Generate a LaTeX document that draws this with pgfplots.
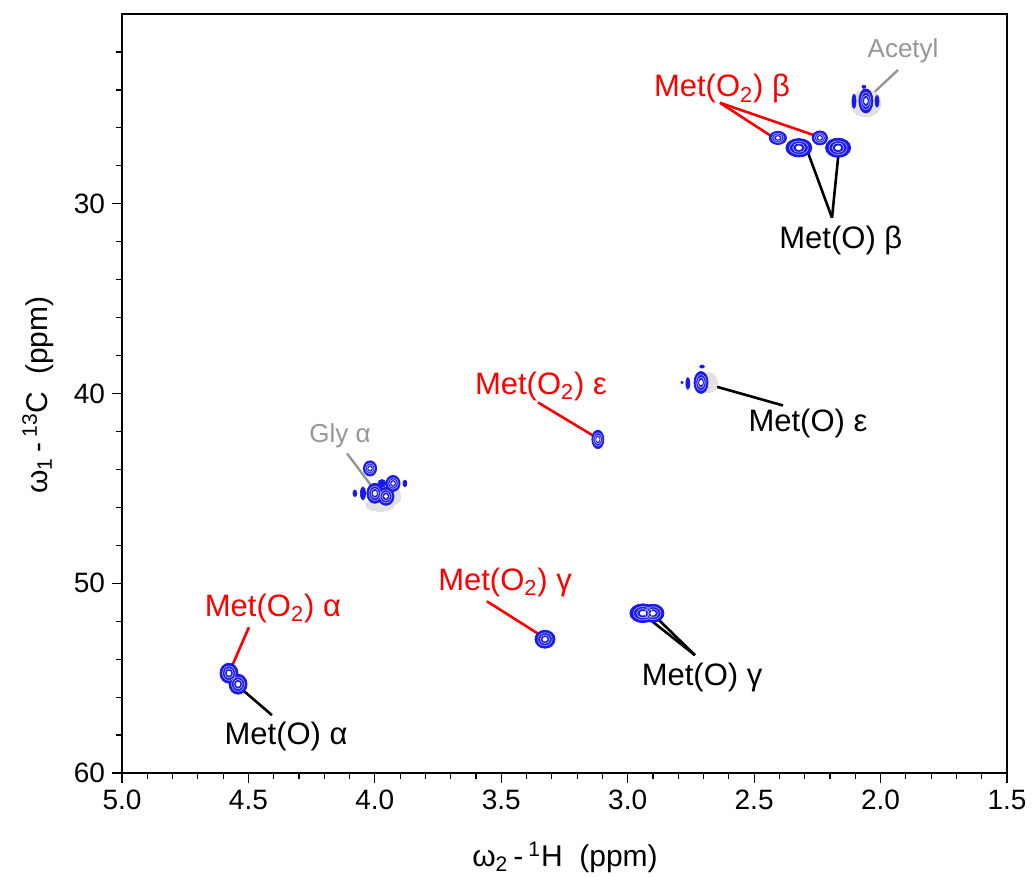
\documentclass[border=0pt]{standalone}
\usepackage{pgfplots}
\pgfplotsset{compat=1.18}
\usepackage{pgfplotstable}
\usepackage{fontspec}
\setmainfont{Liberation Sans}
\definecolor{pk}{RGB}{25,25,235}
\definecolor{lblgray}{RGB}{150,150,150}
\definecolor{halo}{RGB}{225,225,225}

% main peaks: x(1H ppm) y(13C ppm) rx ry (pt)
\pgfplotstableread{
x y rx ry
2.058 24.58 3.5 6.0
2.406 26.53 4.3 3.3
2.240 26.53 3.8 3.5
2.323 27.05 6.5 4.6
2.168 27.05 6.3 4.8
2.710 39.42 3.5 5.5
3.118 42.42 3.0 4.6
3.327 52.95 5.0 4.5
2.940 51.58 6.5 4.7
2.900 51.58 5.5 4.5
4.577 54.74 4.5 5.0
4.541 55.32 4.5 5.0
4.019 43.95 3.3 3.8
4.000 45.26 4.0 5.0
3.956 45.42 4.0 4.5
3.928 44.74 3.5 4.0
}\peaks

\pgfplotstableread{
x y rx ry
2.105 24.60 1.0 3.5
2.014 24.60 1.0 3.0
2.066 23.84 1.0 0.8
2.762 39.47 1.0 3.0
2.785 39.42 0.6 0.6
2.706 38.58 1.2 0.8
3.972 44.74 2.0 2.0
4.047 45.26 1.3 3.3
4.079 45.26 1.0 1.7
3.881 44.74 1.0 1.7
}\smallpeaks

\pgfplotstableread{
x y rx ry
2.058 24.70 7.5 6.8
2.680 39.42 4.5 5.0
3.980 45.89 7.0 3.0
3.960 45.40 8.0 5.5
}\halos

\pgfplotsset{
  peaklayer/.style n args={3}{only marks, scatter, mark=#2, mark size=1pt,
    visualization depends on={\thisrow{rx}\as\rx},
    visualization depends on={\thisrow{ry}\as\ry},
    scatter/@pre marker code/.code={\pgfscope\pgftransformxscale{#1*\rx}\pgftransformyscale{#1*\ry}},
    scatter/@post marker code/.code={\endpgfscope},
    mark options={#3}},
}

\begin{document}
\begin{tikzpicture}
\path[use as bounding box] (-61pt,-52pt) rectangle (456.5pt,386.5pt);
\begin{axis}[
  at={(0,0)}, anchor=south west,
  width=442.5pt, height=379.5pt, scale only axis,
  x dir=reverse, y dir=reverse,
  xmin=1.5, xmax=5, ymin=20, ymax=60,
  xtick={1.5,2,...,5}, minor x tick num=4,
  ytick={30,40,50,60}, minor ytick={22,24,...,58},
  xtick pos=bottom, ytick pos=left,
  x tick label style={/pgf/number format/.cd, fixed, fixed zerofill, precision=1},
  /pgf/number format/assume math mode=true,
  tick align=outside,
  major tick length=5pt, minor tick length=3pt,
  tick style={black, line width=0.6pt},
  axis line style={line width=1pt},
  ticklabel style={font=\fontsize{14}{16}\selectfont},
  xlabel={ω\textsubscript{2}\,-\,\textsuperscript{1}H\ \ (ppm)},
  ylabel={ω\textsubscript{1}\,-\,\textsuperscript{13}C\ \ (ppm)},
  label style={font=\fontsize{15}{18}\selectfont},
  xlabel style={at={(axis description cs:0.5006,-0.111)}, anchor=center},
  ylabel style={at={(axis description cs:-0.095,0.498)}, anchor=center},
  clip=false,
]
\addplot[draw=halo, fill=halo, peaklayer={1}{*}{draw=halo, fill=halo, line width=0pt}] table {\halos};
\addplot[draw=pk, fill=pk, peaklayer={1}{*}{draw=pk, fill=pk, line width=0.4pt}] table {\peaks};
\addplot[draw=pk, fill=pk, peaklayer={1}{*}{draw=pk, fill=pk, line width=0.3pt}] table {\smallpeaks};
\addplot[draw=white!65!pk, peaklayer={0.72}{o}{draw=white!65!pk, line width=0.3pt}] table {\peaks};
\addplot[draw=white!75!pk, peaklayer={0.48}{o}{draw=white!75!pk, line width=0.3pt}] table {\peaks};
\addplot[draw=white, fill=white, peaklayer={0.22}{*}{draw=white, fill=white, line width=0.2pt}] table {\peaks};

% annotation lines
\draw[lblgray, line width=1.2pt] (axis cs:1.931,22.95) -- (axis cs:2.058,24.53);
\draw[red, line width=1.3pt] (axis cs:2.635,24.68) -- (axis cs:2.410,26.63);
\draw[red, line width=1.3pt] (axis cs:2.635,24.68) -- (axis cs:2.232,26.53);
\draw[black, line width=1.3pt] (axis cs:2.192,30.74) -- (axis cs:2.291,27.16);
\draw[black, line width=1.3pt] (axis cs:2.192,30.74) -- (axis cs:2.164,27.05);
\draw[red, line width=1.3pt] (axis cs:3.355,40.47) -- (axis cs:3.118,42.37);
\draw[black, line width=1.3pt] (axis cs:2.694,39.47) -- (axis cs:2.386,40.63);
\draw[lblgray, line width=1.2pt] (axis cs:4.110,43.16) -- (axis cs:4.000,45.11);
\draw[red, line width=1.3pt] (axis cs:4.498,52.32) -- (axis cs:4.577,54.74);
\draw[black, line width=1.3pt] (axis cs:4.545,55.37) -- (axis cs:4.407,56.95);
\draw[red, line width=1.3pt] (axis cs:3.557,50.95) -- (axis cs:3.327,52.89);
\draw[black, line width=1.3pt] (axis cs:2.944,51.58) -- (axis cs:2.734,53.79);
\draw[black, line width=1.3pt] (axis cs:2.904,51.58) -- (axis cs:2.734,53.79);

% labels
\begin{scope}[every node/.style={font=\fontsize{15.5}{18}\selectfont, inner sep=0pt, anchor=center}]
\node[lblgray, font=\fontsize{13}{15}\selectfont] at (axis cs:1.911,21.95) {Acetyl};
\node[red] at (axis cs:2.627,23.95) {Met(O\textsubscript{2}) β};
\node[black] at (axis cs:2.157,31.95) {Met(O) β};
\node[red] at (axis cs:3.343,39.63) {Met(O\textsubscript{2}) ε};
\node[black] at (axis cs:2.287,41.58) {Met(O) ε};
\node[lblgray, font=\fontsize{13}{15}\selectfont] at (axis cs:4.138,42.21) {Gly α};
\node[red] at (axis cs:4.403,51.32) {Met(O\textsubscript{2}) α};
\node[black] at (axis cs:4.351,58.05) {Met(O) α};
\node[red] at (axis cs:3.485,49.95) {Met(O\textsubscript{2}) γ};
\node[black] at (axis cs:2.706,54.95) {Met(O) γ};
\end{scope}
\end{axis}
\end{tikzpicture}
\end{document}
